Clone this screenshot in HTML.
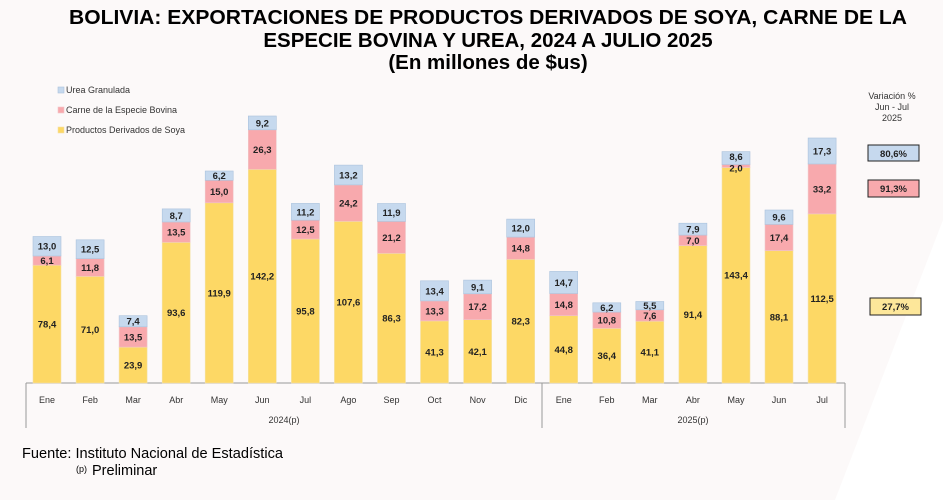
<!DOCTYPE html>
<html><head><meta charset="utf-8"><style>
html,body{margin:0;padding:0;background:#fcf9f9;}
svg{display:block;font-family:"Liberation Sans",sans-serif;}
.v{font-size:9.5px;font-weight:bold;fill:#222;text-anchor:middle;}
.m{font-size:9px;fill:#333;text-anchor:middle;}
.y{fill:#fdd865;stroke:#f3e2a8;stroke-width:.6}
.p{fill:#f8a9ad;stroke:#f0c8ca;stroke-width:.6}
.b{fill:#c6d9ee;stroke:#aac2dd;stroke-width:.6}
</style></head><body>
<svg width="943" height="500" viewBox="0 0 943 500">
<rect width="943" height="500" fill="#fcf9f9"/>
<polygon points="943,220 943,500 835,500" fill="#ffffff"/>
<g font-weight="bold" font-size="20.5" text-anchor="middle" fill="#000">
<text x="488" y="24" textLength="838" lengthAdjust="spacingAndGlyphs">BOLIVIA: EXPORTACIONES DE PRODUCTOS DERIVADOS DE SOYA, CARNE DE LA</text>
<text x="488" y="47">ESPECIE BOVINA Y UREA, 2024 A JULIO 2025</text>
<text x="488" y="69">(En millones de $us)</text>
</g>
<g font-size="9" fill="#333">
<rect x="58" y="87" width="6" height="6" class="b"/><text x="66" y="93">Urea Granulada</text>
<rect x="58" y="107" width="6" height="6" class="p"/><text x="66" y="113">Carne de la Especie Bovina</text>
<rect x="58" y="127" width="6" height="6" class="y"/><text x="66" y="133">Productos Derivados de Soya</text>
</g>
<g stroke="#999" stroke-width="1">
<line x1="26" y1="383" x2="845" y2="383"/>
<line x1="26" y1="383" x2="26" y2="428"/>
<line x1="542" y1="383" x2="542" y2="428"/>
<line x1="845" y1="383" x2="845" y2="428"/>
</g>
<g transform="translate(47,383)"><rect class="y" x="-14" y="-117.8" width="28" height="117.8"/><rect class="p" x="-14" y="-127" width="28" height="9.2"/><rect class="b" x="-14" y="-146.5" width="28" height="19.5"/><text class="v" y="-55.4">78,4</text><text class="v" y="-118.9">6,1</text><text class="v" y="-133.3">13,0</text><text class="m" y="20">Ene</text></g>
<g transform="translate(90.1,383)"><rect class="y" x="-14" y="-106.7" width="28" height="106.7"/><rect class="p" x="-14" y="-124.4" width="28" height="17.7"/><rect class="b" x="-14" y="-143.2" width="28" height="18.8"/><text class="v" y="-49.9">71,0</text><text class="v" y="-112.1">11,8</text><text class="v" y="-130.3">12,5</text><text class="m" y="20">Feb</text></g>
<g transform="translate(133.1,383)"><rect class="y" x="-14" y="-35.9" width="28" height="35.9"/><rect class="p" x="-14" y="-56.2" width="28" height="20.3"/><rect class="b" x="-14" y="-67.3" width="28" height="11.1"/><text class="v" y="-14.5">23,9</text><text class="v" y="-42.6">13,5</text><text class="v" y="-58.3">7,4</text><text class="m" y="20">Mar</text></g>
<g transform="translate(176.2,383)"><rect class="y" x="-14" y="-140.7" width="28" height="140.7"/><rect class="p" x="-14" y="-161" width="28" height="20.3"/><rect class="b" x="-14" y="-174.1" width="28" height="13.1"/><text class="v" y="-66.9">93,6</text><text class="v" y="-147.4">13,5</text><text class="v" y="-164.1">8,7</text><text class="m" y="20">Abr</text></g>
<g transform="translate(219.2,383)"><rect class="y" x="-14" y="-180.2" width="28" height="180.2"/><rect class="p" x="-14" y="-202.7" width="28" height="22.5"/><rect class="b" x="-14" y="-212" width="28" height="9.3"/><text class="v" y="-86.6">119,9</text><text class="v" y="-188">15,0</text><text class="v" y="-203.9">6,2</text><text class="m" y="20">May</text></g>
<g transform="translate(262.3,383)"><rect class="y" x="-14" y="-213.7" width="28" height="213.7"/><rect class="p" x="-14" y="-253.2" width="28" height="39.5"/><rect class="b" x="-14" y="-267" width="28" height="13.8"/><text class="v" y="-103.4">142,2</text><text class="v" y="-230">26,3</text><text class="v" y="-256.6">9,2</text><text class="m" y="20">Jun</text></g>
<g transform="translate(305.4,383)"><rect class="y" x="-14" y="-144" width="28" height="144"/><rect class="p" x="-14" y="-162.8" width="28" height="18.8"/><rect class="b" x="-14" y="-179.6" width="28" height="16.8"/><text class="v" y="-68.5">95,8</text><text class="v" y="-149.9">12,5</text><text class="v" y="-167.7">11,2</text><text class="m" y="20">Jul</text></g>
<g transform="translate(348.4,383)"><rect class="y" x="-14" y="-161.7" width="28" height="161.7"/><rect class="p" x="-14" y="-198.1" width="28" height="36.4"/><rect class="b" x="-14" y="-217.9" width="28" height="19.8"/><text class="v" y="-77.4">107,6</text><text class="v" y="-176.4">24,2</text><text class="v" y="-204.5">13,2</text><text class="m" y="20">Ago</text></g>
<g transform="translate(391.5,383)"><rect class="y" x="-14" y="-129.7" width="28" height="129.7"/><rect class="p" x="-14" y="-161.6" width="28" height="31.9"/><rect class="b" x="-14" y="-179.5" width="28" height="17.9"/><text class="v" y="-61.4">86,3</text><text class="v" y="-142.2">21,2</text><text class="v" y="-167">11,9</text><text class="m" y="20">Sep</text></g>
<g transform="translate(434.5,383)"><rect class="y" x="-14" y="-62.1" width="28" height="62.1"/><rect class="p" x="-14" y="-82.1" width="28" height="20"/><rect class="b" x="-14" y="-102.2" width="28" height="20.1"/><text class="v" y="-27.6">41,3</text><text class="v" y="-68.6">13,3</text><text class="v" y="-88.7">13,4</text><text class="m" y="20">Oct</text></g>
<g transform="translate(477.6,383)"><rect class="y" x="-14" y="-63.3" width="28" height="63.3"/><rect class="p" x="-14" y="-89.2" width="28" height="25.9"/><rect class="b" x="-14" y="-102.9" width="28" height="13.7"/><text class="v" y="-28.2">42,1</text><text class="v" y="-72.8">17,2</text><text class="v" y="-92.6">9,1</text><text class="m" y="20">Nov</text></g>
<g transform="translate(520.7,383)"><rect class="y" x="-14" y="-123.7" width="28" height="123.7"/><rect class="p" x="-14" y="-145.9" width="28" height="22.2"/><rect class="b" x="-14" y="-163.9" width="28" height="18"/><text class="v" y="-58.4">82,3</text><text class="v" y="-131.3">14,8</text><text class="v" y="-151.4">12,0</text><text class="m" y="20">Dic</text></g>
<g transform="translate(563.7,383)"><rect class="y" x="-14" y="-67.3" width="28" height="67.3"/><rect class="p" x="-14" y="-89.5" width="28" height="22.2"/><rect class="b" x="-14" y="-111.6" width="28" height="22.1"/><text class="v" y="-30.2">44,8</text><text class="v" y="-74.9">14,8</text><text class="v" y="-97">14,7</text><text class="m" y="20">Ene</text></g>
<g transform="translate(606.8,383)"><rect class="y" x="-14" y="-54.7" width="28" height="54.7"/><rect class="p" x="-14" y="-70.9" width="28" height="16.2"/><rect class="b" x="-14" y="-80.2" width="28" height="9.3"/><text class="v" y="-23.9">36,4</text><text class="v" y="-59.3">10,8</text><text class="v" y="-72.1">6,2</text><text class="m" y="20">Feb</text></g>
<g transform="translate(649.8,383)"><rect class="y" x="-14" y="-61.8" width="28" height="61.8"/><rect class="p" x="-14" y="-73.2" width="28" height="11.4"/><rect class="b" x="-14" y="-81.5" width="28" height="8.3"/><text class="v" y="-27.4">41,1</text><text class="v" y="-64">7,6</text><text class="v" y="-73.9">5,5</text><text class="m" y="20">Mar</text></g>
<g transform="translate(692.9,383)"><rect class="y" x="-14" y="-137.4" width="28" height="137.4"/><rect class="p" x="-14" y="-147.9" width="28" height="10.5"/><rect class="b" x="-14" y="-159.8" width="28" height="11.9"/><text class="v" y="-65.2">91,4</text><text class="v" y="-139.2">7,0</text><text class="v" y="-150.4">7,9</text><text class="m" y="20">Abr</text></g>
<g transform="translate(736,383)"><rect class="y" x="-14" y="-215.5" width="28" height="215.5"/><rect class="p" x="-14" y="-218.5" width="28" height="3"/><rect class="b" x="-14" y="-231.4" width="28" height="12.9"/><text class="v" y="-104.3">143,4</text><text class="v" y="-211.5">2,0</text><text class="v" y="-223">8,6</text><text class="m" y="20">May</text></g>
<g transform="translate(779,383)"><rect class="y" x="-14" y="-132.4" width="28" height="132.4"/><rect class="p" x="-14" y="-158.6" width="28" height="26.2"/><rect class="b" x="-14" y="-173" width="28" height="14.4"/><text class="v" y="-62.7">88,1</text><text class="v" y="-142">17,4</text><text class="v" y="-162.3">9,6</text><text class="m" y="20">Jun</text></g>
<g transform="translate(822.1,383)"><rect class="y" x="-14" y="-169.1" width="28" height="169.1"/><rect class="p" x="-14" y="-219" width="28" height="49.9"/><rect class="b" x="-14" y="-245" width="28" height="26"/><text class="v" y="-81">112,5</text><text class="v" y="-190.6">33,2</text><text class="v" y="-228.5">17,3</text><text class="m" y="20">Jul</text></g>
<text class="m" x="284" y="423">2024(p)</text>
<text class="m" x="693" y="423">2025(p)</text>
<g font-size="9" fill="#333" text-anchor="middle">
<text x="892" y="99">Variación %</text>
<text x="892" y="110">Jun - Jul</text>
<text x="892" y="121">2025</text>
</g>
<rect x="868" y="145" width="51" height="16" fill="#c6d9ee" stroke="#222" stroke-width="1"/>
<text class="v" x="893.5" y="157">80,6%</text>
<rect x="868" y="180" width="51" height="17" fill="#f8a9ad" stroke="#222" stroke-width="1"/>
<text class="v" x="893.5" y="192">91,3%</text>
<rect x="870" y="298" width="51" height="17" fill="#fde79a" stroke="#222" stroke-width="1"/>
<text class="v" x="895.5" y="310">27,7%</text>
<text x="22" y="458" font-size="14.5" fill="#000" textLength="261" lengthAdjust="spacingAndGlyphs">Fuente: Instituto Nacional de Estadística</text>
<text x="76" y="472" font-size="9" fill="#000">(p)</text>
<text x="92" y="475" font-size="14.5" fill="#000">Preliminar</text>
</svg>
</body></html>
